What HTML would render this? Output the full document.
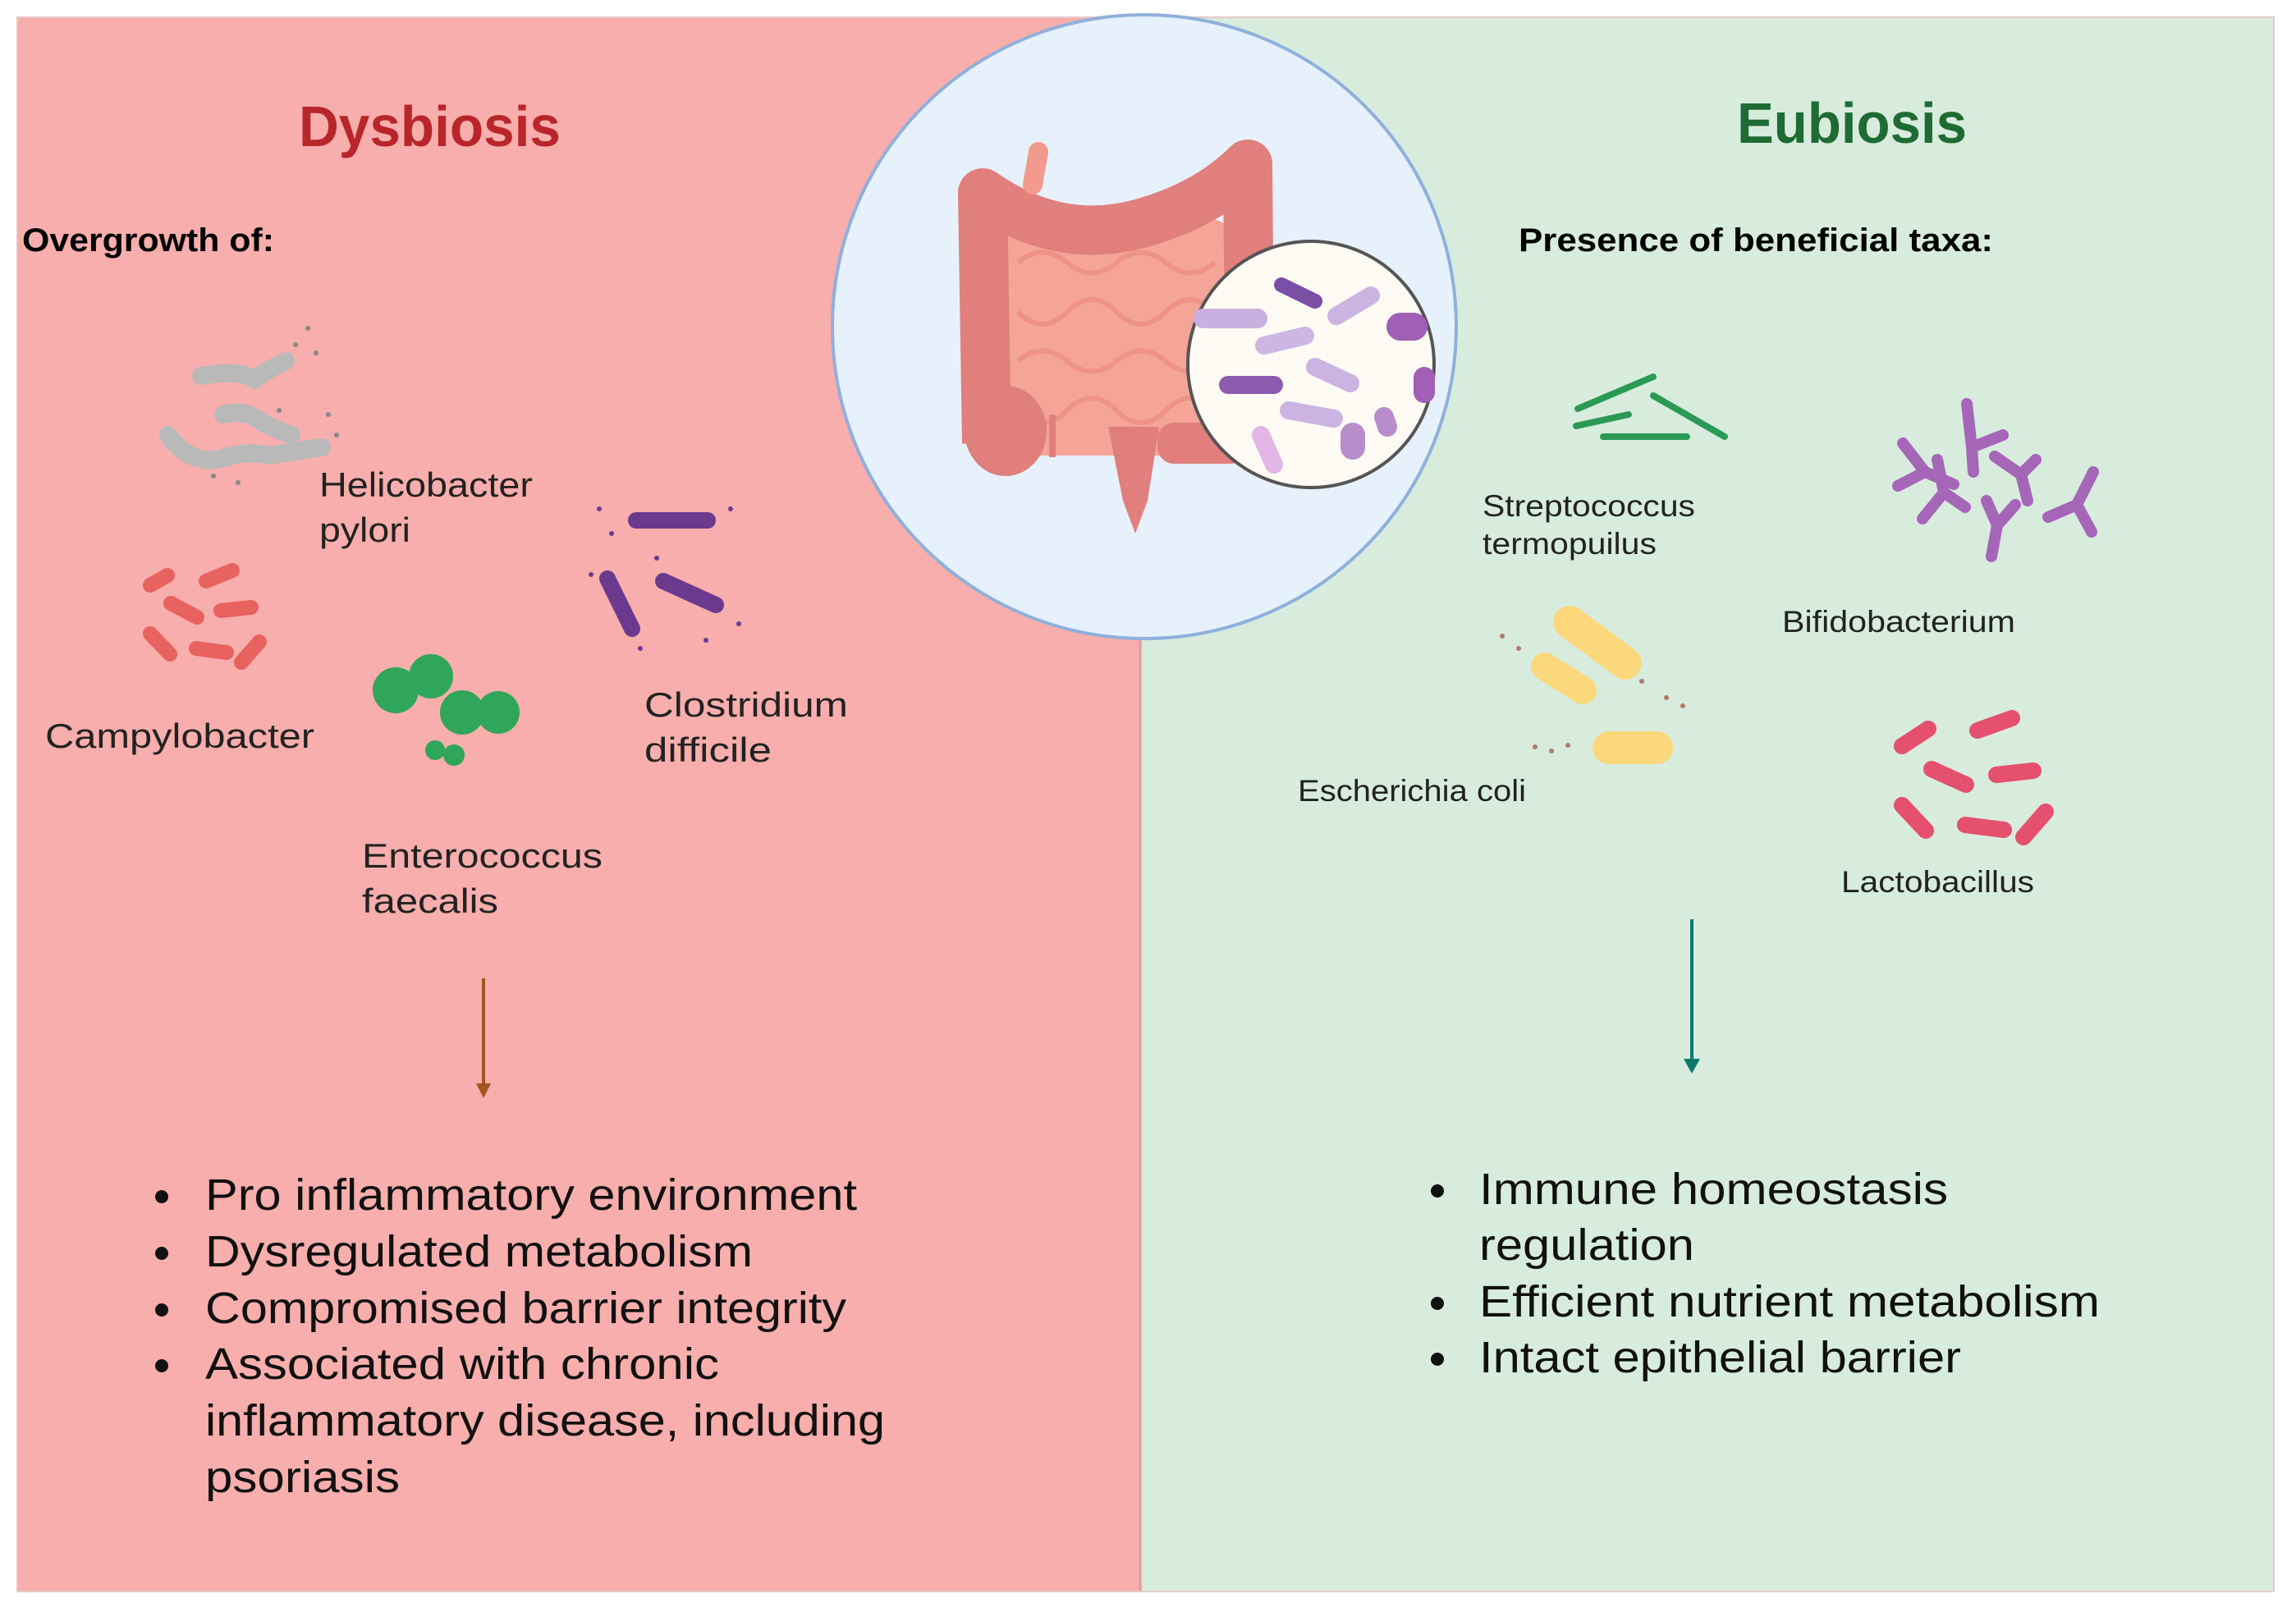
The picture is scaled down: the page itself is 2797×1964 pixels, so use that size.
<!DOCTYPE html>
<html><head><meta charset="utf-8"><style>
html,body{margin:0;padding:0;background:#fff}
svg{display:block}
text{font-family:"Liberation Sans",sans-serif}
</style></head><body>
<svg width="2797" height="1964" viewBox="0 0 2797 1964" xmlns="http://www.w3.org/2000/svg">
<rect width="2797" height="1964" fill="#fff"/>
<rect x="21" y="21" width="1368" height="1918" fill="#f7aeac"/>
<rect x="1389" y="21" width="1381" height="1918" fill="#d8ecde"/>
<line x1="1389" y1="21" x2="1389" y2="1939" stroke="#e09a9a" stroke-width="3"/>
<rect x="21" y="21" width="2749" height="1918" fill="none" stroke="#e5c9c9" stroke-width="2"/>

<circle cx="1394" cy="398" r="380" fill="#e7f1fb" stroke="#8fb0dc" stroke-width="4"/>
<g>
<rect x="1210" y="265" width="305" height="290" rx="50" fill="#f5a597"/>
<g stroke="#ee9386" stroke-width="6" fill="none">
<path d="M1240 320 q30 -25 60 0 t60 0 t60 0 t60 0"/>
<path d="M1240 380 q30 30 60 0 t60 0 t60 0 t60 0"/>
<path d="M1240 440 q30 -25 60 0 t60 0 t60 0 t60 0"/>
<path d="M1240 500 q30 30 60 0 t60 0 t60 0 t60 0"/>
</g>
<path d="M1202 540 L1197 235 Q1290 300 1390 272 Q1470 250 1520 200 L1523 560" fill="none" stroke="#e07f7c" stroke-width="60" stroke-linejoin="round"/>
<path d="M1258 225 L1265 185" stroke="#f19a8d" stroke-width="24" stroke-linecap="round"/>
<ellipse cx="1225" cy="525" rx="50" ry="55" fill="#e07f7c"/>
<path d="M1350 520 L1412 520 L1398 610 L1383 650 L1368 610 Z" fill="#e07f7c"/>
<rect x="1278" y="505" width="8" height="52" fill="#e07f7c"/>
<rect x="1410" y="515" width="110" height="50" rx="20" fill="#e07f7c"/>
</g>
<circle cx="1597" cy="444" r="150" fill="#fdfbf3" stroke="#555" stroke-width="4"/>
<g stroke-linecap="round">
<line x1="1561" y1="347" x2="1602" y2="367" stroke="#7a4fa6" stroke-width="18"/>
<line x1="1466" y1="388" x2="1532" y2="388" stroke="#c9b0e0" stroke-width="24"/>
<line x1="1628" y1="385" x2="1670" y2="360" stroke="#cbb3e2" stroke-width="22"/>
<line x1="1540" y1="421" x2="1590" y2="409" stroke="#cdb6e3" stroke-width="22"/>
<line x1="1496" y1="469" x2="1552" y2="469" stroke="#8c5aae" stroke-width="22"/>
<line x1="1602" y1="447" x2="1645" y2="467" stroke="#cbb3e2" stroke-width="22"/>
<line x1="1570" y1="500" x2="1625" y2="510" stroke="#cbb3e2" stroke-width="22"/>
<line x1="1536" y1="530" x2="1552" y2="566" stroke="#e3b6e6" stroke-width="22"/>
<line x1="1648" y1="530" x2="1648" y2="545" stroke="#b98ccc" stroke-width="30"/>
<line x1="1706" y1="398" x2="1722" y2="398" stroke="#a15fb6" stroke-width="34"/>
<line x1="1735" y1="460" x2="1735" y2="478" stroke="#a15fb6" stroke-width="26"/>
<line x1="1686" y1="508" x2="1690" y2="520" stroke="#b98ccc" stroke-width="24"/>
</g>

<text x="364" y="178" font-size="70" font-weight="bold" fill="#b8262b" textLength="319" lengthAdjust="spacingAndGlyphs">Dysbiosis</text>
<text x="2116" y="174" font-size="70" font-weight="bold" fill="#1e6b34" textLength="280" lengthAdjust="spacingAndGlyphs">Eubiosis</text>
<text x="27" y="306" font-size="40" font-weight="bold" fill="#000" textLength="307" lengthAdjust="spacingAndGlyphs">Overgrowth of:</text>
<text x="1850" y="306" font-size="40" font-weight="bold" fill="#000" textLength="578" lengthAdjust="spacingAndGlyphs">Presence of beneficial taxa:</text>

<g stroke="#b9b9b9" stroke-width="22" fill="none" stroke-linecap="round">
<path d="M245 458 Q290 450 310 462 Q330 448 348 440"/>
<path d="M272 505 Q300 498 320 515 Q340 525 355 530"/>
<path d="M205 530 Q230 565 265 560 Q300 548 330 555 Q370 548 392 545"/>
</g>
<g fill="#888"><circle cx="360" cy="420" r="3"/><circle cx="375" cy="400" r="3"/><circle cx="385" cy="430" r="3"/><circle cx="400" cy="505" r="3"/><circle cx="410" cy="530" r="3"/><circle cx="260" cy="580" r="3"/><circle cx="290" cy="588" r="3"/><circle cx="340" cy="500" r="3"/></g>
<g stroke="#e8625f" stroke-width="18" stroke-linecap="round">
<line x1="183" y1="713" x2="204" y2="701"/><line x1="251" y1="708" x2="283" y2="695"/>
<line x1="208" y1="735" x2="240" y2="752"/><line x1="269" y1="744" x2="306" y2="740"/>
<line x1="183" y1="772" x2="207" y2="797"/><line x1="239" y1="790" x2="276" y2="795"/>
<line x1="294" y1="807" x2="316" y2="782"/>
</g>
<g fill="#2fa65a"><circle cx="482" cy="841" r="28"/><circle cx="525" cy="824" r="27"/><circle cx="563" cy="868" r="27"/><circle cx="607" cy="868" r="26"/><circle cx="530" cy="914" r="12"/><circle cx="553" cy="920" r="13"/></g>
<g stroke="#6b3a8f" stroke-width="20" stroke-linecap="round">
<line x1="775" y1="634" x2="862" y2="634"/><line x1="740" y1="705" x2="770" y2="766"/><line x1="808" y1="708" x2="872" y2="737"/>
</g>
<g fill="#6b3a8f"><circle cx="730" cy="620" r="3"/><circle cx="745" cy="650" r="3"/><circle cx="890" cy="620" r="3"/><circle cx="720" cy="700" r="3"/><circle cx="900" cy="760" r="3"/><circle cx="780" cy="790" r="3"/><circle cx="860" cy="780" r="3"/><circle cx="800" cy="680" r="3"/></g>

<g font-size="42" fill="#222">
<text x="389" y="605" textLength="260" lengthAdjust="spacingAndGlyphs">Helicobacter</text>
<text x="389" y="660" textLength="111" lengthAdjust="spacingAndGlyphs">pylori</text>
<text x="55" y="911" textLength="328" lengthAdjust="spacingAndGlyphs">Campylobacter</text>
<text x="785" y="873" textLength="248" lengthAdjust="spacingAndGlyphs">Clostridium</text>
<text x="785" y="928" textLength="155" lengthAdjust="spacingAndGlyphs">difficile</text>
<text x="441" y="1057" textLength="293" lengthAdjust="spacingAndGlyphs">Enterococcus</text>
<text x="441" y="1112" textLength="166" lengthAdjust="spacingAndGlyphs">faecalis</text>
</g>

<g stroke="#2a9a55" stroke-width="8" stroke-linecap="round">
<line x1="1922" y1="498" x2="2014" y2="459"/><line x1="2014" y1="482" x2="2101" y2="532"/>
<line x1="1920" y1="519" x2="1984" y2="505"/><line x1="1953" y1="532" x2="2055" y2="532"/>
</g>
<g stroke="#a566b8" stroke-width="14" stroke-linecap="round" fill="none">
<path d="M2396 492 L2402 545 L2440 530 M2402 545 L2404 575"/>
<path d="M2318 540 L2345 575 L2312 592 M2345 575 L2380 590"/>
<path d="M2430 556 L2462 578 L2480 560 M2462 578 L2470 610"/>
<path d="M2342 632 L2368 600 L2360 560 M2368 600 L2394 618"/>
<path d="M2420 610 L2433 640 L2455 615 M2433 640 L2426 678"/>
<path d="M2550 575 L2530 615 L2495 630 M2530 615 L2548 648"/>
</g>
<g stroke-linecap="round">
<line x1="1912" y1="758" x2="1980" y2="808" stroke="#fbd87c" stroke-width="40"/>
<line x1="1882" y1="812" x2="1928" y2="841" stroke="#fbd87c" stroke-width="34"/>
<line x1="1960" y1="911" x2="2018" y2="911" stroke="#fbd87c" stroke-width="40"/>
</g>
<g fill="#b07a6a"><circle cx="1830" cy="775" r="3"/><circle cx="1850" cy="790" r="3"/><circle cx="2000" cy="830" r="3"/><circle cx="2030" cy="850" r="3"/><circle cx="2050" cy="860" r="3"/><circle cx="1870" cy="910" r="3"/><circle cx="1890" cy="915" r="3"/><circle cx="1910" cy="908" r="3"/></g>
<g stroke="#e5506e" stroke-width="20" stroke-linecap="round">
<line x1="2317" y1="909" x2="2349" y2="888"/><line x1="2409" y1="890" x2="2451" y2="875"/>
<line x1="2353" y1="937" x2="2395" y2="956"/><line x1="2432" y1="944" x2="2477" y2="939"/>
<line x1="2317" y1="981" x2="2346" y2="1012"/><line x1="2394" y1="1005" x2="2441" y2="1011"/>
<line x1="2465" y1="1020" x2="2492" y2="989"/>
</g>

<g font-size="37" fill="#222">
<text x="1806" y="629" textLength="259" lengthAdjust="spacingAndGlyphs">Streptococcus</text>
<text x="1806" y="675" textLength="212" lengthAdjust="spacingAndGlyphs">termopuilus</text>
<text x="2171" y="770" textLength="284" lengthAdjust="spacingAndGlyphs">Bifidobacterium</text>
<text x="1581" y="976" textLength="278" lengthAdjust="spacingAndGlyphs">Escherichia coli</text>
<text x="2243" y="1087" textLength="235" lengthAdjust="spacingAndGlyphs">Lactobacillus</text>
</g>

<line x1="589" y1="1192" x2="589" y2="1325" stroke="#a0561c" stroke-width="4"/>
<polygon points="580,1320 598,1320 589,1338" fill="#a0561c"/>
<line x1="2061" y1="1120" x2="2061" y2="1294" stroke="#0d7a6b" stroke-width="4"/>
<polygon points="2051,1290 2071,1290 2061,1308" fill="#0d7a6b"/>

<g font-size="54" fill="#111">
<circle cx="197" cy="1458" r="8"/><circle cx="197" cy="1527" r="8"/><circle cx="197" cy="1596" r="8"/><circle cx="197" cy="1664" r="8"/>
<text x="250" y="1474" textLength="794" lengthAdjust="spacingAndGlyphs">Pro inflammatory environment</text>
<text x="250" y="1543" textLength="667" lengthAdjust="spacingAndGlyphs">Dysregulated metabolism</text>
<text x="250" y="1612" textLength="781" lengthAdjust="spacingAndGlyphs">Compromised barrier integrity</text>
<text x="250" y="1680" textLength="626" lengthAdjust="spacingAndGlyphs">Associated with chronic</text>
<text x="250" y="1749" textLength="828" lengthAdjust="spacingAndGlyphs">inflammatory disease, including</text>
<text x="250" y="1818" textLength="237" lengthAdjust="spacingAndGlyphs">psoriasis</text>
<circle cx="1751" cy="1451" r="8"/><circle cx="1751" cy="1588" r="8"/><circle cx="1751" cy="1656" r="8"/>
<text x="1802" y="1467" textLength="571" lengthAdjust="spacingAndGlyphs">Immune homeostasis</text>
<text x="1802" y="1535" textLength="262" lengthAdjust="spacingAndGlyphs">regulation</text>
<text x="1802" y="1604" textLength="756" lengthAdjust="spacingAndGlyphs">Efficient nutrient metabolism</text>
<text x="1802" y="1672" textLength="587" lengthAdjust="spacingAndGlyphs">Intact epithelial barrier</text>
</g>
</svg>
</body></html>
